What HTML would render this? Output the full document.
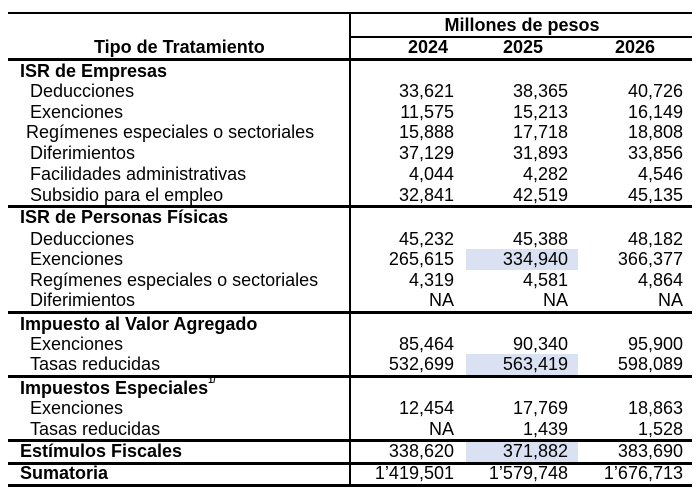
<!DOCTYPE html>
<html><head><meta charset="utf-8"><style>
body{margin:0;width:700px;height:493px;background:#fff;position:relative;overflow:hidden;font-family:"Liberation Sans",Arial,sans-serif;font-size:18px;color:#000}
.t{position:absolute;line-height:20px;white-space:nowrap}
.b{font-weight:bold}
.h{position:absolute;background:#000;height:2px}
.n{position:absolute;line-height:20px;white-space:nowrap;text-align:right;width:110px}
.hl{position:absolute;background:#d9e1f2;left:466px;width:112px;height:21px}
sup{font-size:9px;position:relative;top:-2px;vertical-align:top;line-height:9px}
</style></head><body>
<div class="hl" style="top:249px"></div>
<div class="hl" style="top:354px"></div>
<div class="hl" style="top:441px"></div>

<div class="h" style="left:8px;width:684px;top:12px;height:2px"></div>
<div class="h" style="left:350px;width:342px;top:36px;height:2px"></div>
<div class="h" style="left:8px;width:684px;top:58px;height:3px"></div>
<div class="h" style="left:8px;width:684px;top:205px;height:3px"></div>
<div class="h" style="left:8px;width:684px;top:311px;height:3px"></div>
<div class="h" style="left:8px;width:684px;top:375px;height:3px"></div>
<div class="h" style="left:8px;width:684px;top:439px;height:3px"></div>
<div class="h" style="left:8px;width:684px;top:462px;height:3px"></div>
<div class="h" style="left:8px;width:684px;top:484px;height:3px"></div>
<div class="h" style="left:349px;width:2px;top:12px;height:474px"></div>

<div class="t b" style="left:352px;width:340px;text-align:center;top:15px">Millones de pesos</div>
<div class="t b" style="left:94px;top:37px">Tipo de Tratamiento</div>
<div class="t b" style="left:373px;width:110px;text-align:center;top:37px">2024</div>
<div class="t b" style="left:468px;width:110px;text-align:center;top:37px">2025</div>
<div class="t b" style="left:580px;width:110px;text-align:center;top:37px">2026</div>

<div class="t b" style="left:20px;top:61px">ISR de Empresas</div>
<div class="t" style="left:30px;top:81px">Deducciones</div>
<div class="t" style="left:30px;top:102px">Exenciones</div>
<div class="t" style="left:26px;top:122px">Regímenes especiales o sectoriales</div>
<div class="t" style="left:30px;top:143px">Diferimientos</div>
<div class="t" style="left:30px;top:164px">Facilidades administrativas</div>
<div class="t" style="left:30px;top:185px">Subsidio para el empleo</div>
<div class="t b" style="left:20px;top:207px">ISR de Personas Físicas</div>
<div class="t" style="left:30px;top:229px">Deducciones</div>
<div class="t" style="left:30px;top:249px">Exenciones</div>
<div class="t" style="left:30px;top:270px">Regímenes especiales o sectoriales</div>
<div class="t" style="left:30px;top:290px">Diferimientos</div>
<div class="t b" style="left:20px;top:314px">Impuesto al Valor Agregado</div>
<div class="t" style="left:30px;top:334px">Exenciones</div>
<div class="t" style="left:30px;top:354px">Tasas reducidas</div>
<div class="t b" style="left:20px;top:378px">Impuestos Especiales<sup>1/</sup></div>
<div class="t" style="left:30px;top:398px">Exenciones</div>
<div class="t" style="left:30px;top:419px">Tasas reducidas</div>
<div class="t b" style="left:20px;top:441px">Estímulos Fiscales</div>
<div class="t b" style="left:20px;top:463px">Sumatoria</div>

<div class="n" style="left:344px;top:81px">33,621</div><div class="n" style="left:458px;top:81px">38,365</div><div class="n" style="left:573px;top:81px">40,726</div>
<div class="n" style="left:344px;top:102px">11,575</div><div class="n" style="left:458px;top:102px">15,213</div><div class="n" style="left:573px;top:102px">16,149</div>
<div class="n" style="left:344px;top:122px">15,888</div><div class="n" style="left:458px;top:122px">17,718</div><div class="n" style="left:573px;top:122px">18,808</div>
<div class="n" style="left:344px;top:143px">37,129</div><div class="n" style="left:458px;top:143px">31,893</div><div class="n" style="left:573px;top:143px">33,856</div>
<div class="n" style="left:344px;top:164px">4,044</div><div class="n" style="left:458px;top:164px">4,282</div><div class="n" style="left:573px;top:164px">4,546</div>
<div class="n" style="left:344px;top:185px">32,841</div><div class="n" style="left:458px;top:185px">42,519</div><div class="n" style="left:573px;top:185px">45,135</div>
<div class="n" style="left:344px;top:229px">45,232</div><div class="n" style="left:458px;top:229px">45,388</div><div class="n" style="left:573px;top:229px">48,182</div>
<div class="n" style="left:344px;top:249px">265,615</div><div class="n" style="left:458px;top:249px">334,940</div><div class="n" style="left:573px;top:249px">366,377</div>
<div class="n" style="left:344px;top:270px">4,319</div><div class="n" style="left:458px;top:270px">4,581</div><div class="n" style="left:573px;top:270px">4,864</div>
<div class="n" style="left:344px;top:290px">NA</div><div class="n" style="left:458px;top:290px">NA</div><div class="n" style="left:573px;top:290px">NA</div>
<div class="n" style="left:344px;top:334px">85,464</div><div class="n" style="left:458px;top:334px">90,340</div><div class="n" style="left:573px;top:334px">95,900</div>
<div class="n" style="left:344px;top:354px">532,699</div><div class="n" style="left:458px;top:354px">563,419</div><div class="n" style="left:573px;top:354px">598,089</div>
<div class="n" style="left:344px;top:398px">12,454</div><div class="n" style="left:458px;top:398px">17,769</div><div class="n" style="left:573px;top:398px">18,863</div>
<div class="n" style="left:344px;top:419px">NA</div><div class="n" style="left:458px;top:419px">1,439</div><div class="n" style="left:573px;top:419px">1,528</div>
<div class="n" style="left:344px;top:441px">338,620</div><div class="n" style="left:458px;top:441px">371,882</div><div class="n" style="left:573px;top:441px">383,690</div>
<div class="n" style="left:344px;top:463px">1’419,501</div><div class="n" style="left:458px;top:463px">1’579,748</div><div class="n" style="left:573px;top:463px">1’676,713</div>
</body></html>
